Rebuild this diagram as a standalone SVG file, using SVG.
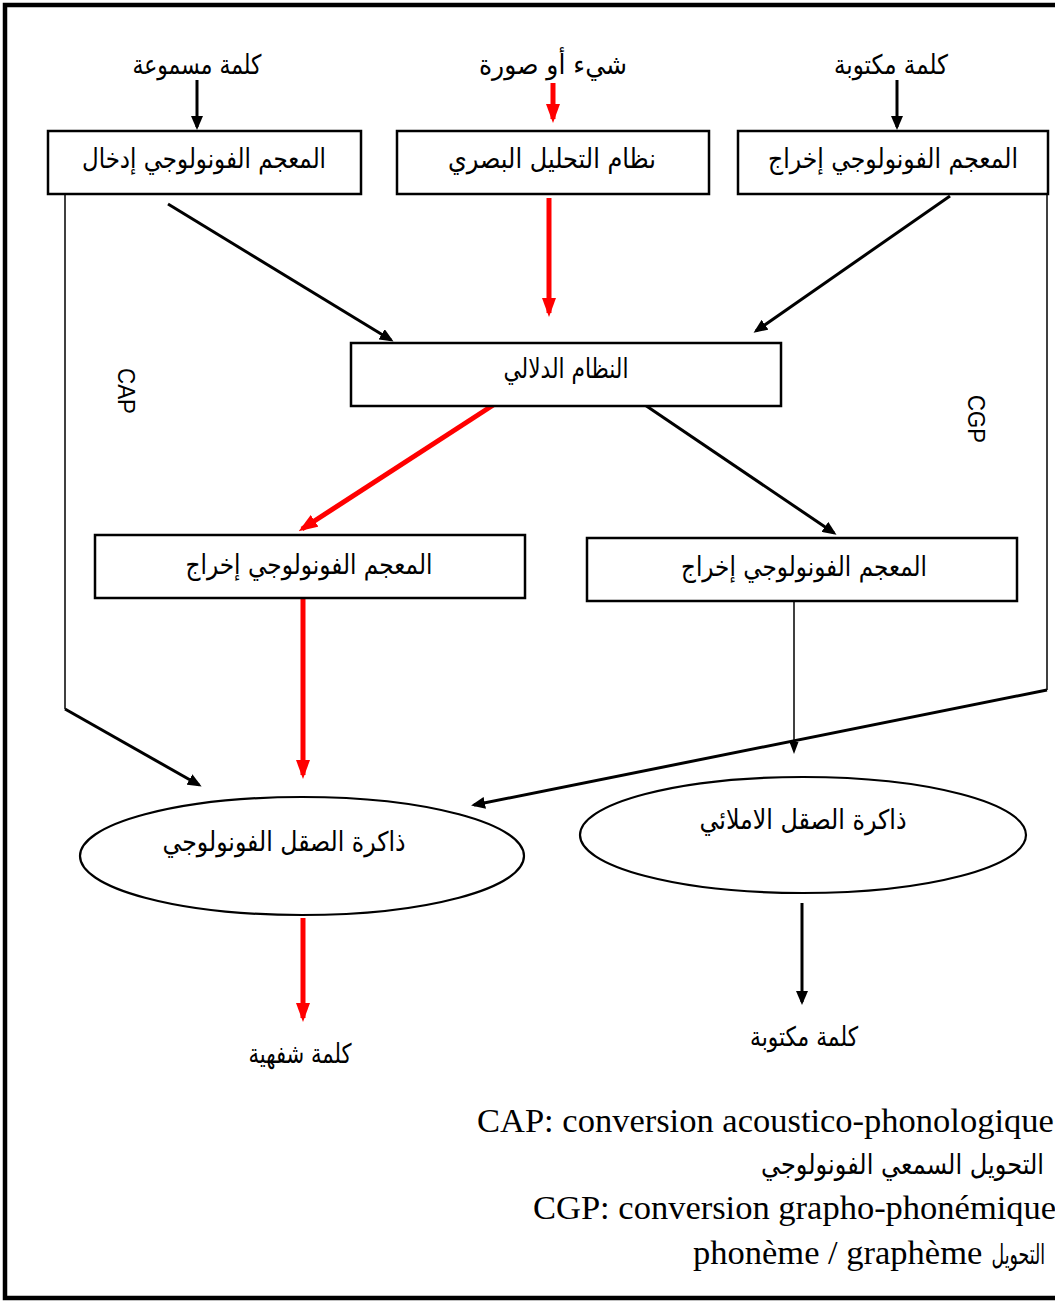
<svg xmlns="http://www.w3.org/2000/svg" width="1055" height="1304" viewBox="0 0 1055 1304">
<style>
.box{fill:#fff;stroke:#000;stroke-width:2.5}
.ell{fill:#fff;stroke:#000;stroke-width:2.2}
.ar{font-family:"DejaVu Sans","Noto Sans",sans-serif;font-size:27px;fill:#000}
.lat{font-family:"Liberation Sans",Arial,sans-serif;font-size:24px;fill:#000}
.ser{font-family:"Liberation Serif","Times New Roman",serif;font-size:34.5px;fill:#000}
.arser{font-family:"DejaVu Sans","Noto Sans",sans-serif;font-size:28px;fill:#000}
.blk{stroke:#000;stroke-width:3;fill:none}
.thin{stroke:#000;stroke-width:1.5;fill:none}
.red{stroke:#ff0000;stroke-width:5;fill:none}
</style>
<defs>
<marker id="ab" markerUnits="userSpaceOnUse" markerWidth="14" markerHeight="12" refX="11" refY="6" orient="auto"><path d="M0,0 L14,6 L0,12 z" fill="#000"/></marker>
<marker id="abs" markerUnits="userSpaceOnUse" markerWidth="12" markerHeight="9" refX="9" refY="4.5" orient="auto"><path d="M0,0 L12,4.5 L0,9 z" fill="#000"/></marker>
<marker id="ar" markerUnits="userSpaceOnUse" markerWidth="19" markerHeight="14" refX="15" refY="7" orient="auto"><path d="M0,0 L19,7 L0,14 z" fill="#ff0000"/></marker>
</defs>
<rect width="1055" height="1304" fill="#fff"/>
<path d="M1060 5 H5 V1298 H1060" fill="none" stroke="#000" stroke-width="4.5"/>

<g id="connectors">
<line class="blk" x1="197" y1="80" x2="197" y2="127" marker-end="url(#ab)"/>
<line class="red" x1="553" y1="83" x2="553" y2="119" marker-end="url(#ar)"/>
<line class="blk" x1="897" y1="80" x2="897" y2="127" marker-end="url(#ab)"/>
<line class="blk" x1="168" y1="204" x2="391" y2="340" marker-end="url(#ab)"/>
<line class="red" x1="549" y1="198" x2="549" y2="313" marker-end="url(#ar)"/>
<line class="blk" x1="950" y1="196" x2="756" y2="331" marker-end="url(#ab)"/>
<line class="red" x1="501" y1="400" x2="302" y2="529" marker-end="url(#ar)"/>
<line class="blk" x1="642" y1="403" x2="834" y2="533" marker-end="url(#ab)"/>
<line class="red" x1="303" y1="599" x2="303" y2="775" marker-end="url(#ar)"/>
<line class="thin" x1="794" y1="596" x2="794" y2="751" stroke-width="1.8" marker-end="url(#abs)"/>
<polyline class="thin" points="65,194 65,709"/>
<line class="blk" x1="65" y1="709" x2="199" y2="785" marker-end="url(#ab)"/>
<polyline class="thin" points="1047,194 1047,690"/>
<line class="blk" x1="1047" y1="690" x2="474" y2="805" marker-end="url(#ab)"/>
<line class="red" x1="303" y1="918" x2="303" y2="1018" marker-end="url(#ar)"/>
<line class="blk" x1="802" y1="903" x2="802" y2="1002" stroke-width="2.2" marker-end="url(#ab)"/>
</g>

<g id="label-heard"><text class="ar" x="197" y="74" text-anchor="middle" textLength="129" lengthAdjust="spacingAndGlyphs">كلمة مسموعة</text></g>
<g id="label-object"><text class="ar" x="553" y="74" text-anchor="middle" textLength="148" lengthAdjust="spacingAndGlyphs">شيء أو صورة</text></g>
<g id="label-written-top"><text class="ar" x="891" y="74" text-anchor="middle" textLength="114" lengthAdjust="spacingAndGlyphs">كلمة مكتوبة</text></g>

<g id="box-input">
<rect class="box" x="48" y="131" width="313" height="63"/>
<text class="ar" x="204" y="168" text-anchor="middle" textLength="244" lengthAdjust="spacingAndGlyphs">المعجم الفونولوجي إدخال</text>
</g>
<g id="box-visual">
<rect class="box" x="397" y="131" width="312" height="63"/>
<text class="ar" x="552" y="168" text-anchor="middle" textLength="208" lengthAdjust="spacingAndGlyphs">نظام التحليل البصري</text>
</g>
<g id="box-output-top">
<rect class="box" x="738" y="131" width="310" height="63"/>
<text class="ar" x="893" y="168" text-anchor="middle" textLength="250" lengthAdjust="spacingAndGlyphs">المعجم الفونولوجي إخراج</text>
</g>
<g id="box-semantic">
<rect class="box" x="351" y="343" width="430" height="63"/>
<text class="ar" x="566" y="378" text-anchor="middle" textLength="125" lengthAdjust="spacingAndGlyphs">النظام الدلالي</text>
</g>
<g id="box-output-left">
<rect class="box" x="95" y="535" width="430" height="63"/>
<text class="ar" x="309" y="574" text-anchor="middle" textLength="247" lengthAdjust="spacingAndGlyphs">المعجم الفونولوجي إخراج</text>
</g>
<g id="box-output-right">
<rect class="box" x="587" y="538" width="430" height="63"/>
<text class="ar" x="804" y="576" text-anchor="middle" textLength="246" lengthAdjust="spacingAndGlyphs">المعجم الفونولوجي إخراج</text>
</g>
<g id="ellipse-phono">
<ellipse class="ell" cx="302" cy="856" rx="222" ry="59"/>
<text class="ar" x="284" y="851" text-anchor="middle" textLength="243" lengthAdjust="spacingAndGlyphs">ذاكرة الصقل الفونولوجي</text>
</g>
<g id="ellipse-ortho">
<ellipse class="ell" cx="803" cy="835" rx="223" ry="58"/>
<text class="ar" x="803" y="829" text-anchor="middle" textLength="207" lengthAdjust="spacingAndGlyphs">ذاكرة الصقل الاملائي</text>
</g>
<g id="label-oral"><text class="ar" x="300" y="1063" text-anchor="middle" textLength="103" lengthAdjust="spacingAndGlyphs">كلمة شفهية</text></g>
<g id="label-written-bottom"><text class="ar" x="804" y="1046" text-anchor="middle" textLength="108" lengthAdjust="spacingAndGlyphs">كلمة مكتوبة</text></g>

<g id="label-cap"><text class="lat" transform="translate(118 391) rotate(90)" text-anchor="middle" textLength="46" lengthAdjust="spacingAndGlyphs">CAP</text></g>
<g id="label-cgp"><text class="lat" transform="translate(968 419) rotate(90)" text-anchor="middle" textLength="48" lengthAdjust="spacingAndGlyphs">CGP</text></g>

<g id="legend">
<text class="ser" x="477" y="1132">CAP: conversion acoustico-phonologique</text>
<text class="arser" transform="translate(1044 1174) scale(0.86 1)" x="0" y="0" direction="rtl" text-anchor="start">التحويل السمعي الفونولوجي</text>
<text class="ser" x="533" y="1219">CGP: conversion grapho-phonémique</text>
<text class="ser" x="693" y="1264">phonème / graphème</text>
<text class="arser" transform="translate(1045 1264) scale(0.62 1)" x="0" y="0" direction="rtl" text-anchor="start">التحويل</text>
</g>
</svg>
